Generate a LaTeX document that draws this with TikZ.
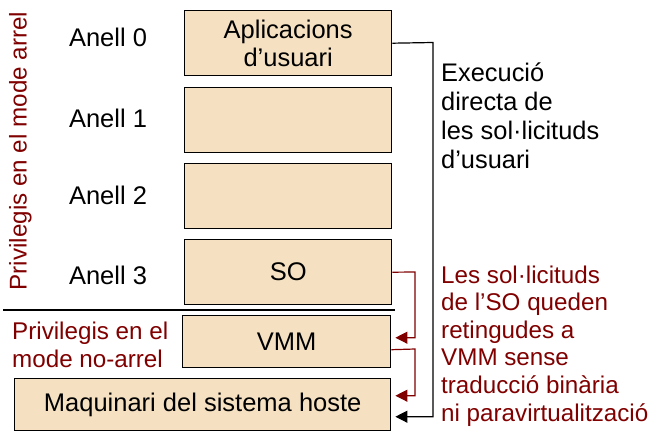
\documentclass[tikz,border=0pt]{standalone}
\usepackage{fontspec}
\setmainfont{Liberation Sans}
\usetikzlibrary{positioning,arrows.meta}
\definecolor{beix}{RGB}{245,225,194}
\definecolor{granat}{RGB}{128,0,0}

\begin{document}
\begin{tikzpicture}[x=1pt,y=-1pt]
  \tikzset{capa/.style={draw,line width=1.4pt,fill=beix,anchor=north west,
             minimum width=207pt,minimum height=65pt,inner sep=0pt,align=center,
             font=\fontsize{25.5}{28}\selectfont},
           anell/.style={anchor=base,font=\fontsize{25.5}{28}\selectfont},
           nota/.style={anchor=base west,align=left,inner sep=0pt},
           fletxa/.style={line width=1.2pt,-{Triangle[length=12pt,width=12pt]},shorten >=4pt}}
  \useasboundingbox (0,0) rectangle (663,436);

  \node[capa] (ap) at (184,10) {Aplicacions\\d’usuari};
  \node[capa] (a1) at (184,87) {};
  \node[capa] (a2) at (184,163) {};
  \node[capa] (so) at (184,239) {SO};
  \node[capa,minimum width=208pt,minimum height=52pt] (vmm) at (182,315) {VMM};
  \node[capa,minimum width=376pt,minimum height=52pt] (host) at (14,378) {Maquinari del sistema hoste};

  \node[anell] (l0) at (108,47) {Anell 0};
  \node[anell] (l1) at (108,127) {Anell 1};
  \node[anell] (l2) at (108,204) {Anell 2};
  \node[anell] (l3) at (108,284) {Anell 3};

  \node[anchor=base,rotate=90,text=granat,inner sep=0pt,
        font=\fontsize{24.2}{27}\selectfont] (arrel) at (26.5,151) {Privilegis en el mode arrel};
  \node[nota,text=granat,font=\fontsize{24.2}{27.7}\selectfont] (noarrel) at (12,367)
    {Privilegis en el\\mode no-arrel};

  \draw[line width=1.2pt] (3,310) -- (395,310);

  \node[nota,font=\fontsize{25.4}{29}\selectfont] (exec) at (441,168)
    {Execució\\directa de\\les sol·licituds\\d’usuari};
  \node[nota,text=granat,font=\fontsize{24.2}{27.6}\selectfont] (ret) at (441,421)
    {Les sol·licituds\\de l’SO queden\\retingudes a\\VMM sense\\traducció binària\\ni paravirtualització};

  \draw[fletxa] (ap.east) -- (433,42.5) |- ([yshift=-12pt]host.east);
  \draw[fletxa,granat] (so.east) -- (415,272) |- ([yshift=4pt]vmm.east);
  \draw[fletxa,granat] ([yshift=-8pt]vmm.east) -- (415,349) |- ([yshift=9pt]host.east);
\end{tikzpicture}
\end{document}
